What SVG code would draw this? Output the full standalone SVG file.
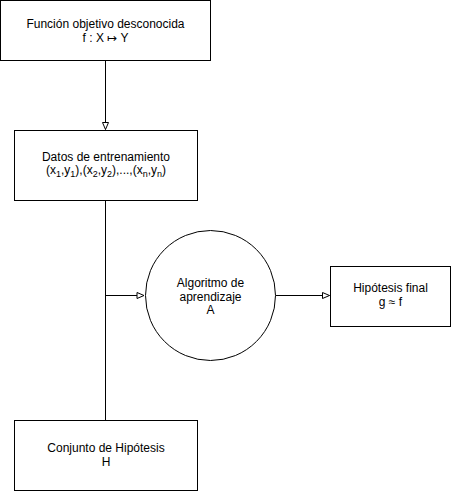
<svg xmlns="http://www.w3.org/2000/svg" width="451" height="491" viewBox="0 0 451 491">
<style>
.box{fill:#fff;stroke:#000;stroke-width:1}
.t{font-family:"Liberation Sans",Arial,sans-serif;font-size:12px;fill:#000;text-anchor:middle}
.edge{fill:none;stroke:#000;stroke-width:1}
.s{font-size:9px}
</style>
<defs>
<marker id="arr" viewBox="0 0 9 8" refX="8" refY="4" markerWidth="9" markerHeight="8" markerUnits="userSpaceOnUse" orient="auto">
<path d="M1,1 L8,4 L1,7 Z" fill="#fff" stroke="#000" stroke-width="1"/>
</marker>
</defs>
<rect width="451" height="491" fill="#fff"/>
<g id="connectors">
<path class="edge" d="M105.5,60.5 V129.5" marker-end="url(#arr)"/>
<path class="edge" d="M105.5,200.5 V420.5"/>
<path class="edge" d="M105.5,295.5 H144" marker-end="url(#arr)"/>
<path class="edge" d="M275.5,295.5 H329.5" marker-end="url(#arr)"/>
</g>
<g id="funcion">
<rect class="box" x="0.5" y="0.5" width="210" height="60"/>
<text class="t" x="105.5" y="28">Función objetivo desconocida</text>
<text class="t" x="105.5" y="42">f : X ↦ Y</text>
</g>
<g id="datos">
<rect class="box" x="14.5" y="130.5" width="183" height="70"/>
<text class="t" x="106" y="161">Datos de entrenamiento</text>
<text class="t" x="106" y="174">(x<tspan class="s" dy="3">1</tspan><tspan dy="-3">,y</tspan><tspan class="s" dy="3">1</tspan><tspan dy="-3">),(x</tspan><tspan class="s" dy="3">2</tspan><tspan dy="-3">,y</tspan><tspan class="s" dy="3">2</tspan><tspan dy="-3">),...,(x</tspan><tspan class="s" dy="3">n</tspan><tspan dy="-3">,y</tspan><tspan class="s" dy="3">n</tspan><tspan dy="-3">)</tspan></text>
</g>
<g id="algoritmo">
<circle class="box" cx="210.5" cy="295.5" r="65"/>
<text class="t" x="210.5" y="287">Algoritmo de</text>
<text class="t" x="210.5" y="300.5">aprendizaje</text>
<text class="t" x="210.5" y="314">A</text>
</g>
<g id="hipotesis">
<rect class="box" x="330.5" y="266.5" width="120" height="60"/>
<text class="t" x="390.5" y="292">Hipótesis final</text>
<text class="t" x="390.5" y="305.5">g ≈ f</text>
</g>
<g id="conjunto">
<rect class="box" x="14.5" y="420.5" width="183" height="70"/>
<text class="t" x="106" y="452">Conjunto de Hipótesis</text>
<text class="t" x="106" y="466">H</text>
</g>
</svg>
